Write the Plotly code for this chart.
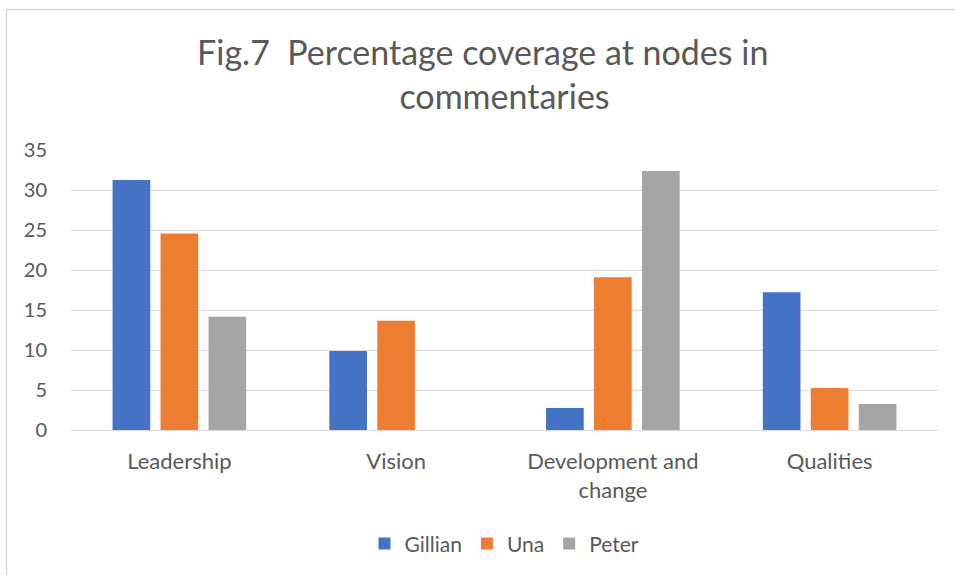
import plotly.graph_objects as go

# Coverage data (percent) per node and commentator
categories = ["Leadership", "Vision", "Development and<br>change", "Qualities"]
gillian = [31.25, 9.86, 2.76, 17.22]
una = [24.56, 13.66, 19.1, 5.26]
peter = [14.16, None, 32.38, 3.26]

series_names = ["Gillian", "Una", "Peter"]
series_values = [gillian, una, peter]
series_colors = ["#4472C4", "#ED7D31", "#A5A5A5"]

title_text = "Fig.7  Percentage coverage at nodes in" + "\u00a0" * 5 + "<br>commentaries"

text_color = "#595959"
font_family = "Lato, 'Open Sans', sans-serif"

fig = go.Figure()
for name, vals, col in zip(series_names, series_values, series_colors):
    fig.add_trace(go.Bar(x=categories, y=vals, name=name,
                         marker=dict(color=col, line=dict(width=0))))

W, H = 955, 577
ml, mr, mt, mb = 71, 17, 150, 142
pw, ph = W - ml - mr, H - mt - mb


def px_x(x):
    return (x - ml) / pw


def px_y(y):
    return (H - mb - y) / ph


fig.update_layout(
    width=W, height=H,
    margin=dict(l=ml, r=mr, t=mt, b=mb, pad=0),
    paper_bgcolor="white", plot_bgcolor="white",
    font=dict(family=font_family, color=text_color, size=20),
    title=dict(text=title_text,
               x=0.5, xanchor="center", xref="paper",
               y=1 - 65 / H, yanchor="middle",
               font=dict(size=34, color=text_color, family=font_family)),
    barmode="group", bargap=0.336, bargroupgap=0.215,
    showlegend=True,
    legend=dict(orientation="h", x=0.5, xanchor="center",
                xref="paper", y=px_y(530), yanchor="top",
                font=dict(size=21, color=text_color),
                itemwidth=30, traceorder="normal"),
    xaxis=dict(showgrid=False, showline=False, ticks="", automargin=False,
               tickfont=dict(size=22, color=text_color),
               ticklabelstandoff=16),
    yaxis=dict(range=[0, 35], dtick=5, showgrid=True, automargin=False,
               gridcolor="#D9D9D9", gridwidth=1.3,
               zeroline=True, zerolinecolor="#D9D9D9", zerolinewidth=1.3,
               showline=False, ticks="",
               tickfont=dict(size=20, color=text_color),
               ticklabelstandoff=23),
    shapes=[
        dict(type="line", xref="paper", yref="paper",
             x0=px_x(6.5), x1=px_x(6.5), y0=px_y(7), y1=px_y(H + 5),
             line=dict(color="#D9D9D9", width=1.5)),
        dict(type="line", xref="paper", yref="paper",
             x0=px_x(6), x1=px_x(W + 5), y0=px_y(7), y1=px_y(7),
             line=dict(color="#D9D9D9", width=1.5)),
    ],
)

fig.write_html("out.html")
